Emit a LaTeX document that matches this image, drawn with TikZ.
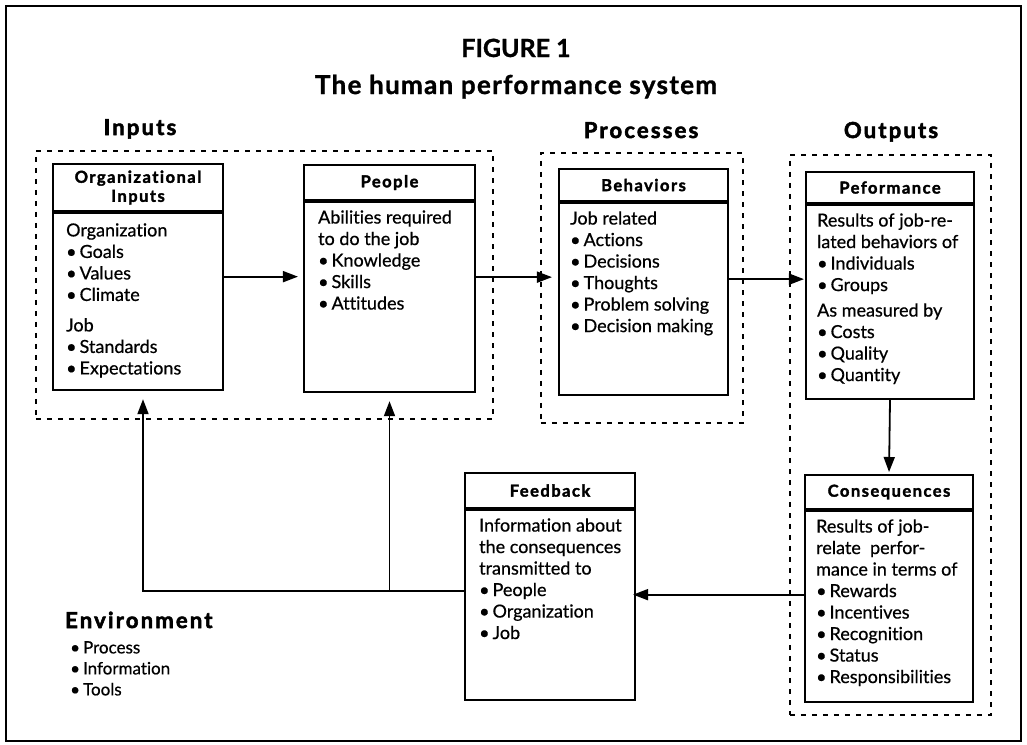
\documentclass[tikz,border=0pt]{standalone}
\usepackage{fontspec}
\setmainfont{Lato}[Ligatures=NoCommon,UprightFeatures={FakeBold=0.6},
  BoldFeatures={FakeBold=1}]
\newfontfamily\hdrfont{Lato}[Ligatures=NoCommon,LetterSpace=9,BoldFeatures={FakeBold=2}]
\newfontfamily\headfont{Lato}[Ligatures=NoCommon,LetterSpace=10,BoldFeatures={FakeBold=2.5}]
\newfontfamily\titlefont{Lato}[Ligatures=NoCommon,LetterSpace=5,BoldFeatures={FakeBold=1.2}]
\usetikzlibrary{arrows.meta,positioning}

\newcommand{\bodysize}{\fontsize{18pt}{21.5pt}\selectfont}
\newcommand{\itm}{\textbullet\hspace{3pt}}

\tikzset{
  frame/.style={draw,line width=2.1pt,inner sep=0pt},
  hdr/.style={frame,anchor=north,align=center,
    font=\hdrfont\bfseries\fontsize{16.5pt}{19pt}\selectfont},
  bodybox/.style={frame,anchor=north},
  bodytext/.style={anchor=north west,inner sep=0pt,align=left,font=\bodysize},
  group/.style={draw,dash pattern=on 5pt off 6pt,line width=1.5pt,
    anchor=north west,inner sep=0pt},
  heading/.style={anchor=base,inner sep=0pt,
    font=\headfont\bfseries\fontsize{22pt}{25pt}\selectfont},
  link/.style={line width=1.8pt,-{Triangle[length=15pt,width=11pt]}}
}

\begin{document}
\begin{tikzpicture}[x=1pt,y=-1pt]
  \useasboundingbox (0,0) rectangle (1027,744);
  \node[frame,anchor=north west,minimum width=1015pt,minimum height=735pt]
    (page) at (5,5) {};

  % title
  \node[anchor=base,font=\bfseries\fontsize{25pt}{30pt}\selectfont]
    (fig) at (516,57) {FIGURE 1};
  \node[anchor=base,font=\titlefont\bfseries\fontsize{26pt}{30pt}\selectfont]
    (title) at (516,94) {The human performance system};

  % groups
  \node[heading] (lin) at (140,135) {Inputs};
  \node[heading] (lproc) at (641,138) {Processes};
  \node[heading] (lout) at (891,138) {Outputs};
  \node[group,minimum width=457pt,minimum height=268pt] (inputs) at (35,150) {};
  \node[group,minimum width=202pt,minimum height=270pt] (procs) at (540,152) {};
  \node[group,minimum width=201pt,minimum height=560pt] (outs) at (789,154) {};

  % organizational inputs
  \node[hdr,minimum width=170pt,minimum height=47pt] (orgh) at (138,163)
    {Organizational\\Inputs};
  \node[bodybox,minimum width=170pt,minimum height=177pt] (org) at (orgh.south) {};
  \node[bodytext] (orgt) at ([shift={(14pt,-11pt)}]org.north west)
    {Organization\\ \itm Goals\\ \itm Values\\ \itm Climate\\[9pt]
     Job\\ \itm Standards\\ \itm Expectations};

  % people
  \node[hdr,minimum width=171pt,minimum height=35pt] (pplh) at (389.5,164) {People};
  \node[bodybox,minimum width=171pt,minimum height=190pt] (ppl) at (pplh.south) {};
  \node[bodytext] (pplt) at ([shift={(15pt,-9pt)}]ppl.north west)
    {Abilities required\\ to do the job\\ \itm Knowledge\\ \itm Skills\\ \itm Attitudes};

  % behaviors
  \node[hdr,minimum width=169pt,minimum height=32pt] (behh) at (643.5,168) {Behaviors};
  \node[bodybox,minimum width=169pt,minimum height=192pt] (beh) at (behh.south) {};
  \node[bodytext] (beht) at ([shift={(12pt,-9pt)}]beh.north west)
    {Job related\\ \itm Actions\\ \itm Decisions\\ \itm Thoughts\\
     \itm Problem solving\\ \itm Decision making};

  % performance
  \node[hdr,minimum width=168pt,minimum height=31pt] (perfh) at (890,171) {Peformance};
  \node[bodybox,minimum width=168pt,minimum height=194pt] (perf) at (perfh.south) {};
  \node[bodytext] (perft) at ([shift={(12pt,-9pt)}]perf.north west)
    {Results of job-re-\\ lated behaviors of\\ \itm Individuals\\ \itm Groups\\[4pt]
     As measured by\\ \itm Costs\\ \itm Quality\\ \itm Quantity};

  % consequences
  \node[hdr,minimum width=168pt,minimum height=34pt] (consh) at (889,474) {Consequences};
  \node[bodybox,minimum width=168pt,minimum height=191pt] (cons) at (consh.south) {};
  \node[bodytext] (const) at ([shift={(12pt,-9pt)}]cons.north west)
    {Results of job-\\ relate\ \ perfor-\\ mance in terms of\\ \itm Rewards\\
     \itm Incentives\\ \itm Recognition\\ \itm Status\\ \itm Responsibilities};

  % feedback
  \node[hdr,minimum width=170pt,minimum height=35pt] (fbh) at (550,472) {Feedback};
  \node[bodybox,minimum width=170pt,minimum height=190pt] (fb) at (fbh.south) {};
  \node[bodytext] (fbt) at ([shift={(15pt,-9pt)}]fb.north west)
    {Information about\\ the consequences\\ transmitted to\\ \itm People\\
     \itm Organization\\ \itm Job};

  % environment
  \node[heading,anchor=base west] (env) at (65,628) {Environment};
  \node[bodytext,anchor=north west,font=\fontsize{17pt}{21pt}\selectfont] (envt)
    at (70,641) {\itm Process\\ \itm Information\\ \itm Tools};

  % connectors
  \draw[link,shorten >=5pt] ([yshift=25pt]org.east) -- ([yshift=25pt]org.east -| ppl.west);
  \draw[link,shorten >=6pt] ([yshift=20pt]ppl.east) -- ([yshift=20pt]ppl.east -| beh.west);
  \draw[link,shorten >=1pt] ([yshift=20pt]beh.east) -- ([yshift=20pt]beh.east -| perf.west);
  \draw[link,shorten >=2pt] (perf.south) -- (consh.north);
  \draw[link,shorten >=-3pt] ([yshift=12pt]cons.west) -- ([yshift=12pt]cons.west -| fb.east);
  \coordinate (fbturn) at ([yshift=14pt]fb.west);
  \draw[link,shorten >=8pt] (fbturn) -| ([xshift=5pt]org.south);
  \draw[link,shorten >=8pt] (fbturn -| ppl.south) -- (ppl.south);
\end{tikzpicture}
\end{document}
